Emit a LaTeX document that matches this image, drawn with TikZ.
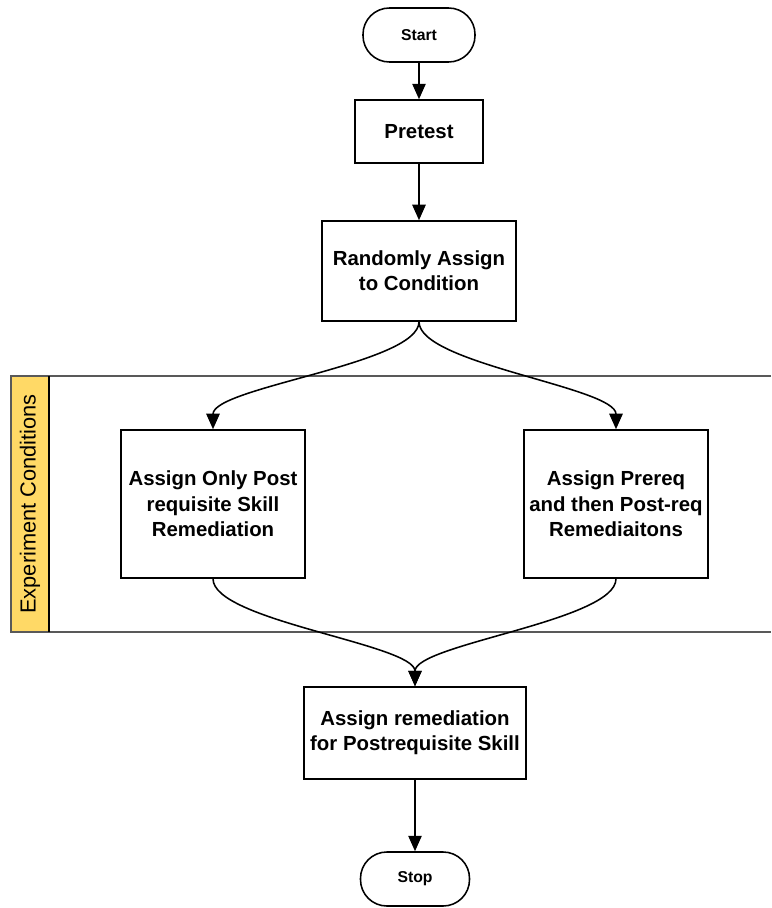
\documentclass[tikz,border=0pt]{standalone}
\usepackage{fontspec}
\setmainfont{Liberation Sans}
\usepackage{tikz}
\usetikzlibrary{arrows.meta}

\definecolor{laneyellow}{RGB}{255,217,102}

\begin{document}
\begin{tikzpicture}[x=0.025cm,y=-0.025cm,
    box/.style={draw,line width=1.1pt,align=center,font=\fontsize{14.5}{18}\selectfont\bfseries},
    term/.style={draw,line width=1.1pt,rounded corners=0.66cm,minimum height=1.35cm,font=\fontsize{11.2}{13}\selectfont\bfseries},
    arr/.style={line width=1.1pt,-{Triangle[length=11pt,width=9.5pt]}}]
\useasboundingbox (0,0) rectangle (771,908);

% swim lane for the two conditions
\fill[laneyellow] (11,376) rectangle (49,632);
\draw[gray!70!black,line width=1pt] (771,376) -- (11,376) -- (11,632) -- (771,632);
\draw[black,line width=1pt] (49,376) -- (49,632);
\node[rotate=90,font=\fontsize{15.5}{18}\selectfont] (lanelabel) at (30,504) {Experiment Conditions};

\node[term,minimum width=2.8cm] (start) at (419,35) {Start};
\node[box,minimum width=3.2cm,minimum height=1.575cm] (pretest) at (419,131.5) {Pretest};
\node[box,minimum width=4.85cm,minimum height=2.5cm] (random) at (419,271) {Randomly Assign\\to Condition};
\node[box,minimum width=4.6cm,minimum height=3.7cm] (postonly) at (213,504) {Assign Only Post\\requisite Skill\\Remediation};
\node[box,minimum width=4.6cm,minimum height=3.7cm] (prereq) at (616,504) {Assign Prereq\\and then Post-req\\Remediaitons};
\node[box,minimum width=5.55cm,minimum height=2.3cm] (remed) at (415,733) {Assign remediation\\for Postrequisite Skill};
\node[term,minimum width=2.725cm] (stop) at (415,879) {Stop};

\draw[arr] (start) -- (pretest);
\draw[arr] (pretest) -- (random);
\draw[arr] (random.south) .. controls +(0,42) and +(0,-42) .. (postonly.north);
\draw[arr] (random.south) .. controls +(0,42) and +(0,-42) .. (prereq.north);
\draw[arr] (postonly.south) .. controls +(0,42) and +(0,-42) .. (remed.north);
\draw[arr] (prereq.south) .. controls +(0,42) and +(0,-42) .. (remed.north);
\draw[arr] (remed) -- (stop);
\end{tikzpicture}
\end{document}
